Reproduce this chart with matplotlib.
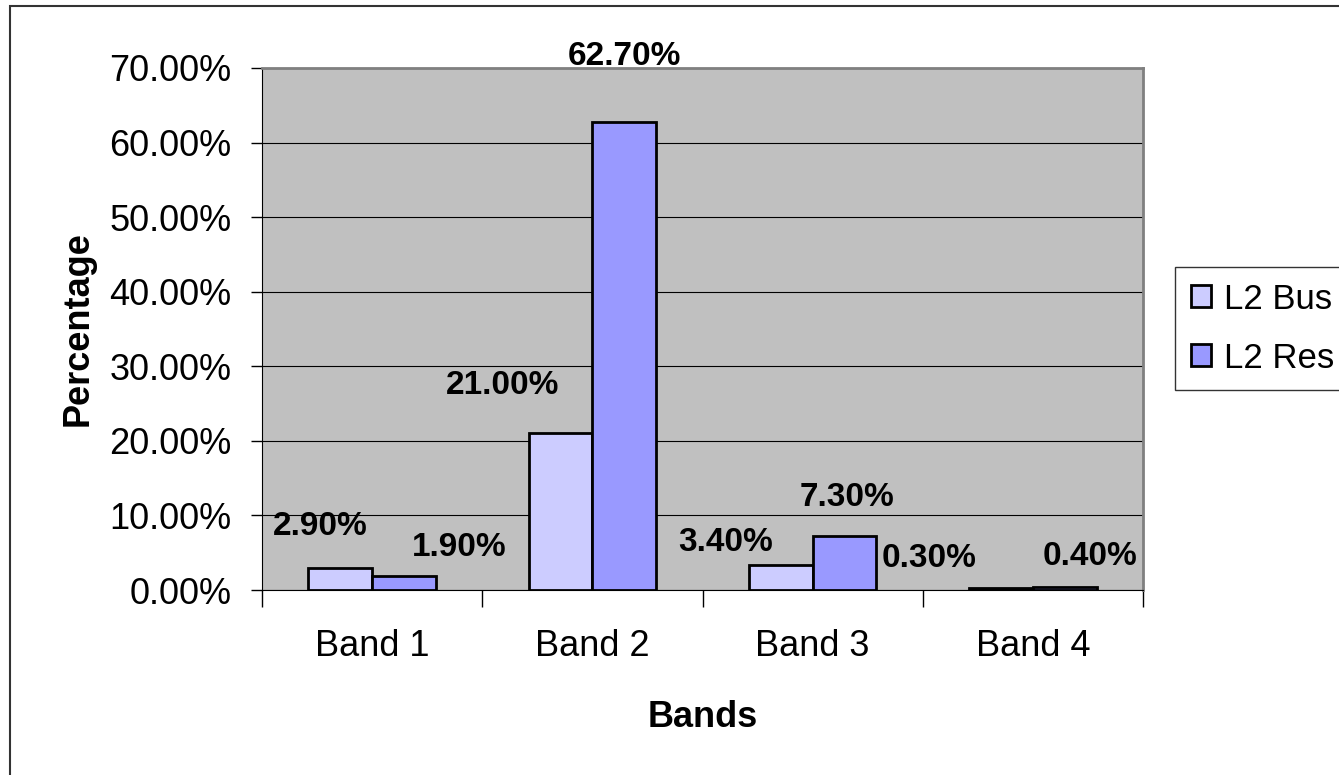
import matplotlib.pyplot as plt
import numpy as np
from matplotlib.patches import Rectangle
from matplotlib.ticker import FuncFormatter

plt.rcParams['font.family'] = ['Liberation Sans', 'DejaVu Sans']

bands = ['Band 1', 'Band 2', 'Band 3', 'Band 4']
l2_bus = [2.9, 21.0, 3.4, 0.3]
l2_res = [1.9, 62.7, 7.3, 0.4]
series_names = ['L2 Bus', 'L2 Res']

# Excel-style label offsets (points), label placement as in the original
bus_offsets = [(-14, 19), (-42, 23), (-40, 5), (-52, 10)]
res_offsets = [(40, 9), (0, 36), (2, 16), (18, 11)]

W, H = 1339, 775
fig = plt.figure(figsize=(W / 100, H / 100), dpi=100)
fig.patch.set_facecolor('white')

# outer chart frame, runs off the right and bottom edges
fig.patches.append(Rectangle((10 / W, -0.1), 1.2, 1 - 6 / H + 0.1,
                             transform=fig.transFigure, fill=False,
                             edgecolor='#333333', linewidth=1.5))

ax = fig.add_axes([262 / W, 1 - 590 / H, (1143 - 262) / W, (590 - 68) / H])
ax.set_facecolor('#C0C0C0')

x = np.arange(len(bands))
width = 0.29
b1 = ax.bar(x - width / 2, l2_bus, width, color='#CCCCFF', edgecolor='black',
            linewidth=2, label=series_names[0], zorder=3)
b2 = ax.bar(x + width / 2, l2_res, width, color='#9999FF', edgecolor='black',
            linewidth=2, label=series_names[1], zorder=3)

for bars, vals, offs in [(b1, l2_bus, bus_offsets), (b2, l2_res, res_offsets)]:
    for rect, v, off in zip(bars, vals, offs):
        ax.annotate('%.2f%%' % v, (rect.get_x() + rect.get_width() / 2, v),
                    xytext=off, textcoords='offset points', ha='center',
                    va='bottom', fontsize=24, fontweight='bold', zorder=4)

ax.set_xlim(-0.5, len(bands) - 0.5)
ax.set_ylim(0, 70)
ax.set_yticks(np.arange(0, 71, 10))
ax.yaxis.set_major_formatter(FuncFormatter(lambda v, p: '%.2f%%' % v))
ax.grid(axis='y', color='black', linewidth=0.8, zorder=1)

ax.set_xticks(x)
ax.set_xticklabels(bands)
ax.set_xticks(np.arange(-0.5, len(bands), 1), minor=True)
ax.tick_params(axis='x', which='major', length=0, pad=28, labelsize=26)
ax.tick_params(axis='x', which='minor', length=12, width=1, color='black')
ax.tick_params(axis='y', length=8, width=1, labelsize=26, pad=14)

for side in ['top', 'right']:
    ax.spines[side].set_color('#808080')
    ax.spines[side].set_linewidth(2)
ax.spines['left'].set_color('black')
ax.spines['bottom'].set_color('black')

ax.set_xlabel('Bands', fontsize=26, fontweight='bold', labelpad=26)
ax.set_ylabel('Percentage', fontsize=26, fontweight='bold', labelpad=10)

leg = fig.legend(handles=[b1, b2], labels=series_names, loc='upper left',
                 bbox_to_anchor=(1175 / W, 1 - 267 / H), fontsize=25,
                 frameon=True, fancybox=False, edgecolor='black',
                 handlelength=0.6, handleheight=0.6, handletextpad=0.35,
                 borderpad=0.45, labelspacing=0.75, borderaxespad=0)
leg.get_frame().set_linewidth(1)

fig.savefig('out.png', dpi=100)
